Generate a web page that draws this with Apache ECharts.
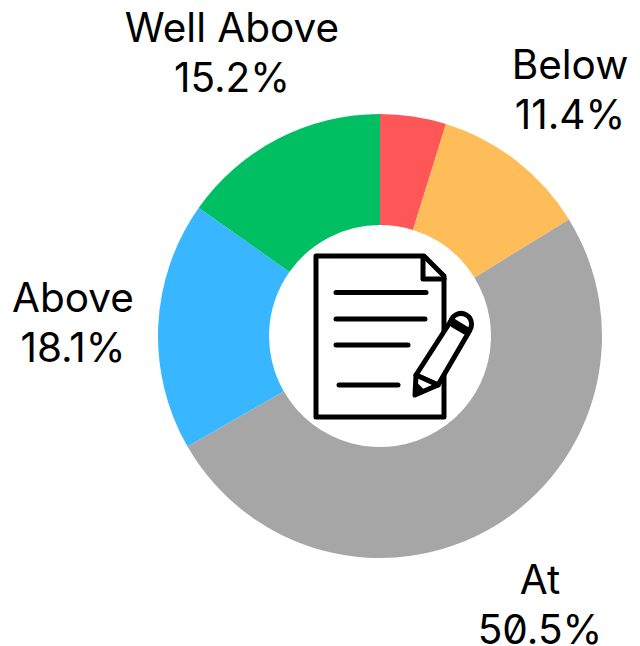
<!DOCTYPE html>
<html><head><meta charset="utf-8">
<style>html,body{margin:0;padding:0;background:#fff}#c{width:640px;height:646px}
#c text{font-feature-settings:"zero" 1}</style>
<script src="https://cdn.jsdelivr.net/npm/echarts@6/dist/echarts.min.js"></script>
</head><body><div id="c"></div>
<script>
const categories=["Well Below","Below","At","Above","Well Above"];
const values=[4.8,11.4,50.5,18.1,15.2];
const colors=["#ff5757","#ffbd59","#a6a6a6","#38b6ff","#00bf63"];
const labelShown=[false,true,true,true,true];
const labelCenters=[[0,0],[570,89],[540,604],[73,322],[232,52]];
const chart=echarts.init(document.getElementById('c'),null,{renderer:'svg'});
const ink='#000';
const stroke={stroke:ink,fill:null,lineWidth:5,lineCap:'round',lineJoin:'round'};
const solid={stroke:ink,fill:'#fff',lineWidth:5,lineCap:'round',lineJoin:'round'};
const line=(x1,y1,x2,y2)=>({type:'line',shape:{x1,y1,x2,y2},style:stroke});
chart.setOption({
 animation:false,
 series:[{type:'pie',center:[380,336],radius:[111,222],startAngle:90,clockwise:true,silent:true,
  data:categories.map((n,i)=>({name:n,value:values[i],itemStyle:{color:colors[i]},
    label:{show:labelShown[i]},labelLine:{show:false}})),
  labelLayout:p=>({x:labelCenters[p.dataIndex][0],y:labelCenters[p.dataIndex][1],align:'center',verticalAlign:'middle',hideOverlap:false}),
  label:{position:'outside',overflow:'none',formatter:p=>p.name+'\n'+p.value.toFixed(1)+'%',color:'#000',fontFamily:'Inter',fontSize:40.5,lineHeight:50,align:'center'}
 }],
 graphic:[{type:'group',x:300,y:240,silent:true,children:[
  {type:'polygon',shape:{points:[[16,16],[124,16],[144,36],[144,177],[16,177]]},style:solid},
  {type:'polyline',shape:{points:[[123,17],[123,39],[144,39]]},style:stroke},
  line(36,52.5,126,52.5),line(36,79,125,79),line(36,105,108,105),line(39,145,98,145),
  {type:'circle',shape:{cx:161,cy:84,r:10.5},style:solid},
  {type:'polygon',shape:{points:[[116,135],[151.5,80],[169.5,91],[138,145]]},style:solid},
  {type:'polygon',shape:{points:[[116,135],[115,155],[138,145]]},style:solid},
  {type:'polygon',shape:{points:[[116,143],[115,155],[124,151]]},style:{stroke:ink,fill:ink,lineWidth:2,lineJoin:'round'}},
  line(153,85,165,92)
 ]}]
});
</script></body></html>
